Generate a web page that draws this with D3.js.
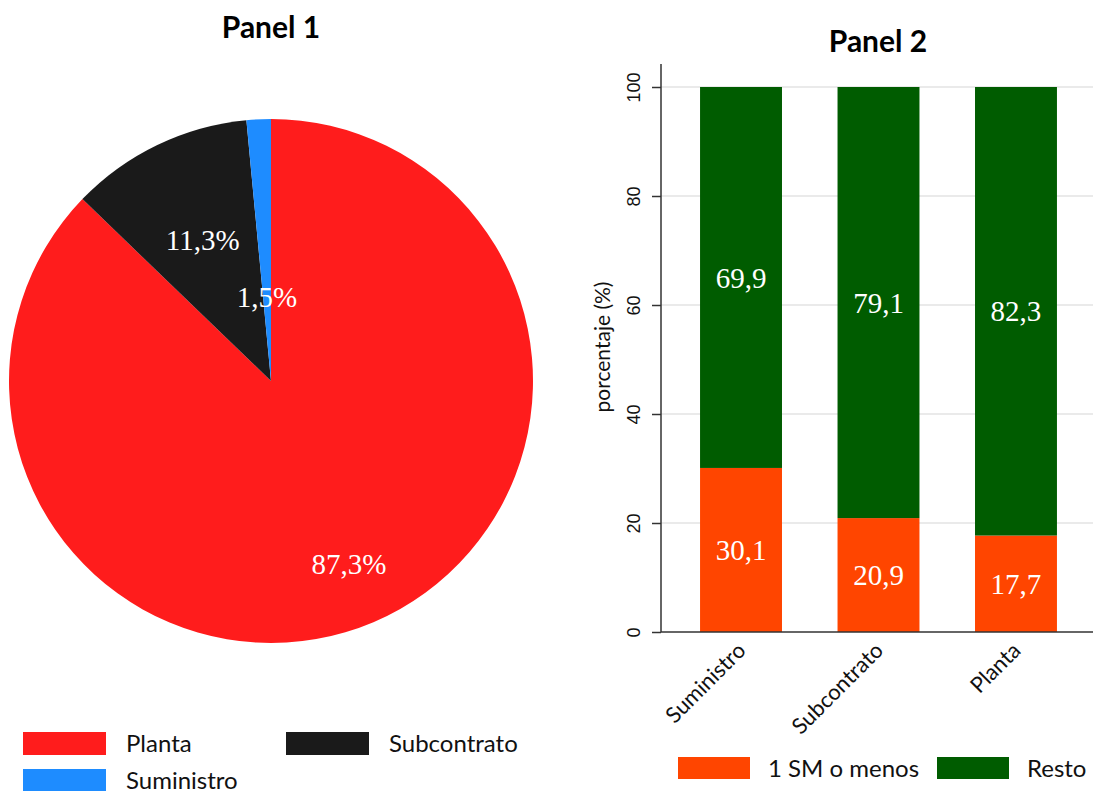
<!DOCTYPE html>
<html><head><meta charset="utf-8">
<script src="https://cdn.jsdelivr.net/npm/d3@7"></script>
<style>body{margin:0;background:#fff}</style>
</head><body>
<svg id="c" width="1093" height="791"></svg>
<script>
// Panel 1 data
const pieCats = ["Planta", "Subcontrato", "Suministro"];
const pieVals = [87.3, 11.3, 1.5];
const pieLabels = ["87,3%", "11,3%", "1,5%"];
// Panel 2 data
const barCats = ["Suministro", "Subcontrato", "Planta"];
const lowVals = [30.1, 20.9, 17.7];
const restVals = [69.9, 79.1, 82.3];
const lowLabels = ["30,1", "20,9", "17,7"];
const restLabels = ["69,9", "79,1", "82,3"];
const yTicks = [0, 20, 40, 60, 80, 100];
const seriesNames = ["1 SM o menos", "Resto"];

const pieColors = {"Planta": "#ff1c1c", "Subcontrato": "#1a1a1a", "Suministro": "#1e8cff"};
const barColors = ["#ff4500", "#005c00"];
const labelRadius = [0.76, 0.6, 0.32];

const sans = "Lato, 'Open Sans', sans-serif";
const serif = "'Liberation Serif', 'DejaVu Serif', serif";
const arial = "'Liberation Sans', Arial, sans-serif";
const svg = d3.select("#c");

// ---------- Panel 1 ----------
const cx = 271, cy = 381, R = 262;
svg.append("text").attr("x", cx).attr("y", 38).attr("text-anchor", "middle")
  .attr("font-family", sans).attr("font-weight", "bold").attr("font-size", 30).text("Panel 1");
const pie = d3.pie().sort(null).value(d => d.v);
const pdata = pie(pieCats.map((c, i) => ({c, v: pieVals[i], l: pieLabels[i], i})));
const arc = d3.arc().innerRadius(0).outerRadius(R);
const g1 = svg.append("g").attr("transform", `translate(${cx},${cy})`);
g1.selectAll("path").data(pdata).enter().append("path")
  .attr("d", arc).attr("fill", d => pieColors[d.data.c]);
g1.selectAll("text").data(pdata).enter().append("text")
  .attr("transform", d => {
    const a = (d.startAngle + d.endAngle) / 2, r = R * labelRadius[d.data.i];
    return `translate(${Math.sin(a) * r},${-Math.cos(a) * r})`;
  })
  .attr("text-anchor", "middle").attr("dy", "0.35em")
  .attr("font-family", serif).attr("font-size", 29).attr("fill", "#fff")
  .text(d => d.data.l);

// Panel 1 legend
const leg1 = [
  {c: "Planta", x: 23, y: 732}, {c: "Subcontrato", x: 286, y: 732}, {c: "Suministro", x: 23, y: 769}
];
leg1.forEach(d => {
  svg.append("rect").attr("x", d.x).attr("y", d.y).attr("width", 83).attr("height", 23).attr("fill", pieColors[d.c]);
  svg.append("text").attr("x", d.x + 103).attr("y", d.y + 20).attr("font-family", sans)
    .attr("font-size", 24).attr("fill", "#111").text(d.c);
});

// ---------- Panel 2 ----------
const x0 = 661, x1 = 1096, yTop = 64, yBot = 632;
const x = d3.scaleBand().domain(barCats).range([x0, x1]).paddingInner(0.404).paddingOuter(0.284);
const y = d3.scaleLinear().domain([0, 100]).range([yBot, 87]);

svg.append("text").attr("x", 878).attr("y", 52).attr("text-anchor", "middle")
  .attr("font-family", sans).attr("font-weight", "bold").attr("font-size", 30).text("Panel 2");

// grid
svg.append("g").selectAll("line").data(yTicks.filter(t => t > 0)).enter().append("line")
  .attr("x1", x0).attr("x2", 1093).attr("y1", d => y(d)).attr("y2", d => y(d))
  .attr("stroke", "#e3e3e3").attr("stroke-width", 1.5);

// bars
const g2 = svg.append("g");
barCats.forEach((c, i) => {
  g2.append("rect").attr("x", x(c)).attr("width", x.bandwidth())
    .attr("y", y(lowVals[i])).attr("height", y(0) - y(lowVals[i])).attr("fill", barColors[0]);
  g2.append("rect").attr("x", x(c)).attr("width", x.bandwidth())
    .attr("y", y(lowVals[i] + restVals[i])).attr("height", y(lowVals[i]) - y(lowVals[i] + restVals[i])).attr("fill", barColors[1]);
  g2.append("text").attr("x", x(c) + x.bandwidth() / 2).attr("y", y(lowVals[i] / 2)).attr("dy", "0.35em")
    .attr("text-anchor", "middle").attr("font-family", serif).attr("font-size", 29).attr("fill", "#fff").text(lowLabels[i]);
  g2.append("text").attr("x", x(c) + x.bandwidth() / 2).attr("y", y(lowVals[i] + restVals[i] / 2)).attr("dy", "0.35em")
    .attr("text-anchor", "middle").attr("font-family", serif).attr("font-size", 29).attr("fill", "#fff").text(restLabels[i]);
});

// y axis
const ya = svg.append("g").attr("transform", `translate(${x0},0)`)
  .call(d3.axisLeft(y).tickValues(yTicks).tickSize(9).tickPadding(0).tickFormat(d3.format("d")));
ya.select(".domain").remove();
ya.append("line").attr("x1", 0).attr("x2", 0).attr("y1", yTop).attr("y2", yBot).attr("stroke", "#333").attr("stroke-width", 1.5);
ya.selectAll(".tick line").attr("stroke", "#333").attr("stroke-width", 1.5);
ya.selectAll(".tick text").attr("font-family", arial).attr("font-size", 18)
  .attr("fill", "#111").attr("text-anchor", "middle").attr("x", null).attr("dy", null)
  .attr("transform", "translate(-26,0) rotate(-90)").attr("y", 0).attr("dominant-baseline", "middle");

svg.append("text").attr("transform", `translate(605,347) rotate(-90)`).attr("text-anchor", "middle")
  .attr("dominant-baseline", "middle")
  .attr("font-family", sans).attr("font-size", 21).attr("fill", "#111")
  .text("porcentaje (%)");

// x axis
const xa = svg.append("g").attr("transform", `translate(0,${yBot})`)
  .call(d3.axisBottom(x).tickSize(0).tickPadding(0));
xa.select(".domain").remove();
xa.append("line").attr("x1", x0).attr("x2", 1093).attr("y1", 0).attr("y2", 0).attr("stroke", "#333").attr("stroke-width", 1.5);
xa.selectAll(".tick text").attr("font-family", sans).attr("font-size", 22).attr("fill", "#111")
  .attr("text-anchor", "end").attr("y", 0).attr("dy", null)
  .attr("transform", "translate(6,20) rotate(-45)");

// legend panel 2
seriesNames.forEach((s, i) => {
  const lx = [678, 937][i];
  svg.append("rect").attr("x", lx).attr("y", 757).attr("width", 72).attr("height", 22).attr("fill", barColors[i]);
  svg.append("text").attr("x", lx + 90).attr("y", 777).attr("font-family", sans).attr("font-size", 24)
    .attr("fill", "#111").text(s);
});
</script>
</body></html>
